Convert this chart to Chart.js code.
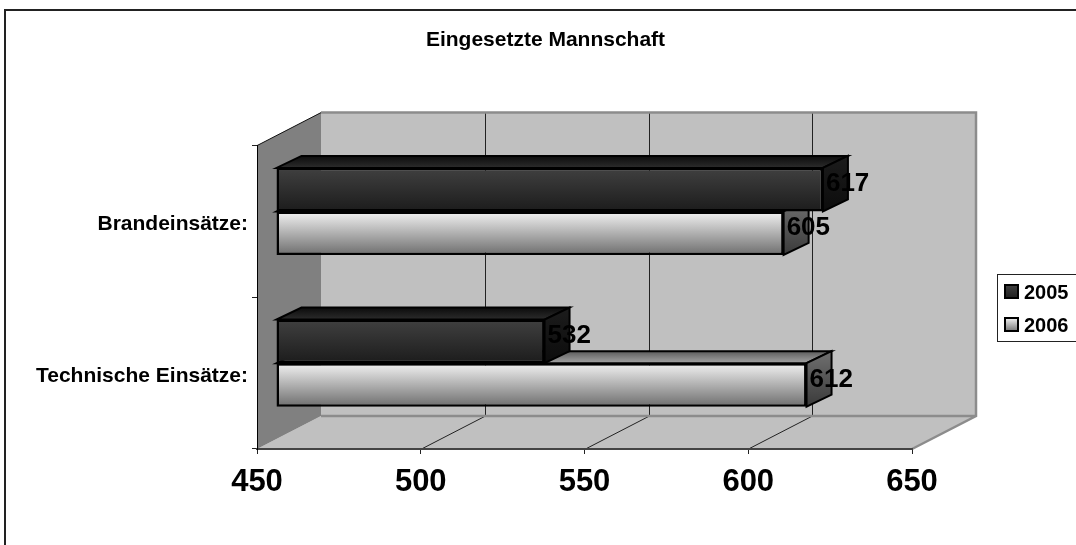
<!DOCTYPE html>
<html>
<head>
<meta charset="utf-8">
<script src="https://cdn.jsdelivr.net/npm/chart.js@4"></script>
<style>
  body { margin: 0; background: #fff; }
</style>
</head>
<body>
<canvas id="chart" width="1076" height="545"></canvas>
<script>
const categories = ["Brandeinsätze:", "Technische Einsätze:"];
const values2005 = [617, 532];
const values2006 = [605, 612];
const tickMin = 450;
const tickMax = 650;
const tickStep = 50;

const FONT = "'Liberation Sans', Arial, sans-serif";
const WALL_DX = 64, WALL_DY = 33;   // depth of the whole box
const BAR_DX = 25, BAR_DY = 12;     // depth of one bar
const SHIFT_X = 19, SHIFT_Y = -10;  // bars sit in the middle of the box
const CAT_PCT = 0.574;

const looks = [
  { front: ["#404040", "#1c1c1c"], top: ["#0c0c0c", "#2c2c2c"], side: ["#1c1c1c", "#0c0c0c"] },
  { front: ["#f2f2f2", "#6e6e6e"], top: ["#5c5c5c", "#a4a4a4"], side: ["#707070", "#3a3a3a"] }
];

function vGrad(ctx, y0, y1, colors) {
  const g = ctx.createLinearGradient(0, y0, 0, y1);
  g.addColorStop(0, colors[0]);
  g.addColorStop(1, colors[1]);
  return g;
}

function barFill(dsIndex) {
  return (c) => {
    const y = c.chart.scales.y;
    if (!y || c.dataIndex === undefined) return looks[dsIndex].front[1];
    const band = y.height / categories.length;
    const thick = band * CAT_PCT / 2;
    const start = y.getPixelForValue(c.dataIndex) - thick + dsIndex * thick;
    return vGrad(c.chart.ctx, start, start + thick, looks[dsIndex].front);
  };
}

function poly(ctx, pts, fill, stroke, width) {
  ctx.beginPath();
  pts.forEach((p, i) => i ? ctx.lineTo(p[0], p[1]) : ctx.moveTo(p[0], p[1]));
  ctx.closePath();
  if (fill) { ctx.fillStyle = fill; ctx.fill(); }
  if (stroke) { ctx.strokeStyle = stroke; ctx.lineWidth = width; ctx.stroke(); }
}

const box3d = {
  id: "box3d",
  afterLayout(chart) {
    // title is centred on the frame, legend sits at the right edge
    Object.assign(chart.titleBlock, { left: 15, right: 1076, width: 1061 });
    Object.assign(chart.legend, { left: 985, top: 270, right: 1076, bottom: 545 });
  },
  beforeDraw(chart) {
    const ctx = chart.ctx;
    const { left, right, top, bottom } = chart.chartArea;
    const x = chart.scales.x;
    ctx.save();
    // outer frame
    ctx.strokeStyle = "#222";
    ctx.lineWidth = 2;
    ctx.beginPath();
    ctx.moveTo(5, 545);
    ctx.lineTo(5, 10);
    ctx.lineTo(1076, 10);
    ctx.stroke();
    // legend box
    ctx.fillStyle = "#fff";
    ctx.strokeStyle = "#222";
    ctx.lineWidth = 1;
    ctx.fillRect(997.5, 274.5, 90, 67);
    ctx.strokeRect(997.5, 274.5, 90, 67);

    const backBottom = bottom - WALL_DY, backTop = top - WALL_DY;
    const backRight = right + WALL_DX, backLeft = left + WALL_DX;
    poly(ctx, [[backLeft, backTop], [backRight, backTop], [backRight, backBottom], [backLeft, backBottom]], "#c0c0c0");
    poly(ctx, [[left, bottom], [right, bottom], [backRight, backBottom], [backLeft, backBottom]], "#c0c0c0");
    poly(ctx, [[left, top], [backLeft, backTop], [backLeft, backBottom], [left, bottom]], "#808080");

    // grid on back wall and floor
    ctx.strokeStyle = "#222";
    ctx.lineWidth = 1;
    x.ticks.forEach((t) => {
      if (t.value === tickMin || t.value === tickMax) return;
      const px = Math.round(x.getPixelForValue(t.value)) + 0.5;
      ctx.beginPath();
      ctx.moveTo(px, bottom);
      ctx.lineTo(px + WALL_DX, backBottom);
      ctx.lineTo(px + WALL_DX, backTop);
      ctx.stroke();
    });

    // wall edges
    ctx.strokeStyle = "#8c8c8c";
    ctx.lineWidth = 2.5;
    ctx.beginPath();
    ctx.moveTo(backLeft, backTop);
    ctx.lineTo(backRight, backTop);
    ctx.lineTo(backRight, backBottom);
    ctx.lineTo(right, bottom);
    ctx.moveTo(backRight, backBottom);
    ctx.lineTo(backLeft, backBottom);
    ctx.stroke();
    ctx.strokeStyle = "#111";
    ctx.lineWidth = 1;
    ctx.beginPath();
    ctx.moveTo(left, top);
    ctx.lineTo(backLeft, backTop);
    ctx.stroke();
    ctx.restore();
  },
  beforeDatasetsDraw(chart) {
    chart.ctx.save();
    chart.ctx.translate(SHIFT_X, SHIFT_Y);
  },
  beforeDatasetDraw(chart, args) {
    // top and side faces of each bar, behind its front face
    const ctx = chart.ctx;
    const look = looks[args.index];
    args.meta.data.forEach((el) => {
      const t = el.y - el.height / 2, b = el.y + el.height / 2;
      const l = el.base, r = el.x;
      ctx.save();
      ctx.lineJoin = "miter";
      poly(ctx, [[l, t], [r, t], [r + BAR_DX, t - BAR_DY], [l + BAR_DX, t - BAR_DY]],
        vGrad(ctx, t - BAR_DY, t, look.top), "#000", 2);
      poly(ctx, [[r, t], [r + BAR_DX, t - BAR_DY], [r + BAR_DX, b - BAR_DY], [r, b]],
        vGrad(ctx, t - BAR_DY, b, look.side), "#000", 2);
      ctx.restore();
    });
  },
  afterDatasetsDraw(chart) {
    const ctx = chart.ctx;
    ctx.fillStyle = "#000";
    ctx.font = "bold 26px " + FONT;
    ctx.textAlign = "left";
    ctx.textBaseline = "middle";
    chart.data.datasets.forEach((ds, i) => {
      chart.getDatasetMeta(i).data.forEach((el, j) => {
        ctx.fillText(ds.data[j], el.x + 3, el.y - 5.5);
      });
    });
    ctx.restore();
  },
  afterDraw(chart) {
    // legend swatches
    const ctx = chart.ctx;
    ctx.save();
    chart.data.datasets.forEach((ds, i) => {
      const y = chart.legend.top + 15 + i * 33;
      ctx.fillStyle = vGrad(ctx, y, y + 14, looks[i].front);
      ctx.strokeStyle = "#000";
      ctx.lineWidth = 2;
      ctx.fillRect(1005, y, 13, 13);
      ctx.strokeRect(1005, y, 13, 13);
    });
    ctx.restore();
  }
};

new Chart(document.getElementById("chart"), {
  type: "bar",
  data: {
    labels: categories,
    datasets: [
      { label: "2005", data: values2005, backgroundColor: barFill(0) },
      { label: "2006", data: values2006, backgroundColor: barFill(1) }
    ]
  },
  options: {
    indexAxis: "y",
    responsive: false,
    animation: false,
    layout: { padding: { left: 0, right: 164, top: 28, bottom: 0 } },
    datasets: {
      bar: {
        base: tickMin,
        barPercentage: 1,
        categoryPercentage: CAT_PCT,
        borderColor: "#000",
        borderWidth: 2.5,
        borderSkipped: false,
        clip: false
      }
    },
    scales: {
      x: {
        min: tickMin,
        max: tickMax,
        ticks: {
          stepSize: tickStep,
          color: "#000",
          padding: 10,
          maxRotation: 0,
          font: { family: FONT, size: 31, weight: "bold" }
        },
        grid: { drawOnChartArea: false, tickLength: 5, tickColor: "#222" },
        border: { color: "#444", width: 2 },
        afterFit(scale) { scale.height = 96; }
      },
      y: {
        ticks: {
          color: "#000",
          padding: 4,
          labelOffset: 3,
          font: { family: FONT, size: 21, weight: "bold" }
        },
        grid: { drawOnChartArea: false, tickLength: 5, tickColor: "#222" },
        border: { color: "#000", width: 1 },
        afterFit(scale) { scale.width = 257; }
      }
    },
    plugins: {
      title: {
        display: true,
        text: "Eingesetzte Mannschaft",
        color: "#000",
        font: { family: FONT, size: 21, weight: "bold" },
        padding: { top: 0, bottom: 92.4 }
      },
      legend: {
        position: "chartArea",
        align: "start",
        labels: {
          color: "#000",
          boxWidth: 16,
          padding: 13,
          font: { family: FONT, size: 20, weight: "bold" },
          generateLabels(chart) {
            return chart.data.datasets.map((ds, i) => ({
              text: ds.label,
              datasetIndex: i,
              fillStyle: "rgba(0,0,0,0)",
              strokeStyle: "rgba(0,0,0,0)",
              lineWidth: 0
            }));
          }
        }
      },
      tooltip: { enabled: false }
    }
  },
  plugins: [box3d]
});
</script>
</body>
</html>
